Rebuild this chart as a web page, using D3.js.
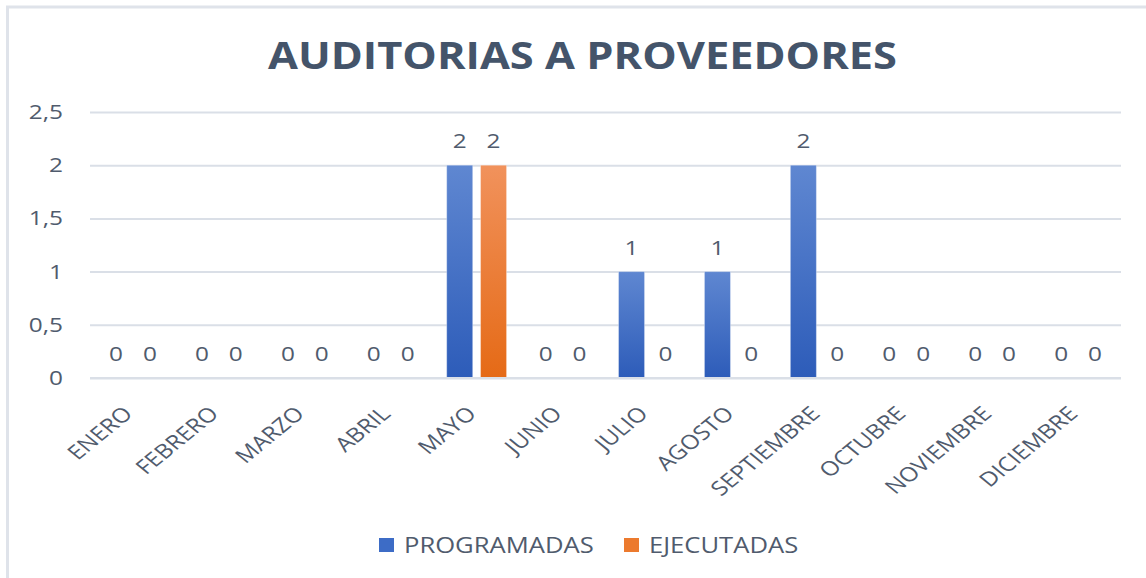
<!DOCTYPE html>
<html>
<head>
<meta charset="utf-8">
<script src="https://cdn.jsdelivr.net/npm/d3@7"></script>
<style>
  html, body { margin: 0; padding: 0; background: #ffffff; }
  svg { display: block; }
  text { font-family: "Open Sans", "Noto Sans", sans-serif; }
</style>
</head>
<body>
<svg id="chart" width="1146" height="578"></svg>
<script>
const categories = ["ENERO","FEBRERO","MARZO","ABRIL","MAYO","JUNIO","JULIO","AGOSTO","SEPTIEMBRE","OCTUBRE","NOVIEMBRE","DICIEMBRE"];
const seriesNames = ["PROGRAMADAS","EJECUTADAS"];
const programadas = [0,0,0,0,2,0,1,1,2,0,0,0];
const ejecutadas  = [0,0,0,0,2,0,0,0,0,0,0,0];
const yTicks = [0,0.5,1,1.5,2,2.5];
const titleText = "AUDITORIAS A PROVEEDORES";

const svg = d3.select("#chart");
const W = 1146, H = 578;
const plot = {left: 90, right: 1121, top: 112, bottom: 378};
const textColor = "#505b6d";
const gridColor = "#dadfe7";
const SX = 1.22; // horizontal stretch of the reference text

// frame
svg.append("rect").attr("x", 7.5).attr("y", 7).attr("width", W + 10).attr("height", H + 10)
  .attr("fill", "none").attr("stroke", "#dfe3ea").attr("stroke-width", 3);

// gradients
const defs = svg.append("defs");
const grads = [
  {id: "gBlue", top: "#5f87d1", bottom: "#2d5cb9"},
  {id: "gOrange", top: "#f1925c", bottom: "#e56a16"}
];
grads.forEach(g => {
  const lg = defs.append("linearGradient").attr("id", g.id).attr("x1", 0).attr("y1", 0).attr("x2", 0).attr("y2", 1);
  lg.append("stop").attr("offset", "0%").attr("stop-color", g.top);
  lg.append("stop").attr("offset", "100%").attr("stop-color", g.bottom);
});
const fills = ["url(#gBlue)", "url(#gOrange)"];
const legendFills = ["#3d6cc6", "#ec7a2e"];

const y = d3.scaleLinear().domain([0, 2.5]).range([plot.bottom, plot.top]);
const x0 = d3.scaleBand().domain(categories).range([plot.left, plot.right]).padding(0);
const w = x0.bandwidth() / 3.3;
const x1 = d3.scaleBand().domain(seriesNames).range([w / 2, x0.bandwidth() - w / 2])
  .paddingInner(0.3 / 1.3).paddingOuter(0);

// gridlines
const yAxis = d3.axisLeft(y).tickValues(yTicks)
  .tickSize(-(plot.right - plot.left))
  .tickFormat(d => String(d).replace(".", ","));
const gy = svg.append("g").attr("transform", `translate(${plot.left},0)`).call(yAxis);
gy.select(".domain").remove();
gy.selectAll(".tick line").attr("stroke", gridColor).attr("stroke-width", 2);
gy.selectAll(".tick text").attr("x", 0).attr("fill", textColor)
  .style("font-size", "20px").style("font-family", "'Open Sans', sans-serif")
  .attr("transform", `translate(-27,0) scale(${SX},1)`);

// bars
const data = categories.map((c, i) => ({cat: c, vals: [programadas[i], ejecutadas[i]]}));
const groups = svg.append("g").selectAll("g").data(data).join("g")
  .attr("transform", d => `translate(${x0(d.cat)},0)`);
groups.selectAll("rect").data(d => d.vals.map((v, k) => ({k, v}))).join("rect")
  .filter(d => d.v > 0)
  .attr("x", d => x1(seriesNames[d.k]))
  .attr("width", x1.bandwidth())
  .attr("y", d => y(d.v))
  .attr("height", d => y(0) - y(d.v))
  .attr("fill", d => fills[d.k])
  .attr("stroke", "rgba(255,255,255,0.35)").attr("stroke-width", 1);

groups.selectAll("text").data(d => d.vals.map((v, k) => ({k, v}))).join("text")
  .attr("transform", d => `translate(${x1(seriesNames[d.k]) + x1.bandwidth() / 2},${y(d.v) - 24}) scale(${SX},1)`)
  .attr("dy", "0.35em")
  .attr("text-anchor", "middle")
  .attr("fill", textColor)
  .style("font-size", "20px")
  .text(d => d.v);

// x axis baseline
svg.append("line").attr("x1", plot.left).attr("x2", plot.right)
  .attr("y1", y(0)).attr("y2", y(0)).attr("stroke", gridColor).attr("stroke-width", 2);

// category labels
const xAxis = d3.axisBottom(x0).tickSize(0).tickPadding(0);
const gx = svg.append("g").attr("transform", `translate(0,${plot.bottom})`).call(xAxis);
gx.select(".domain").remove();
gx.selectAll(".tick text")
  .attr("fill", textColor)
  .style("font-size", "20px")
  .attr("text-anchor", "end")
  .attr("dy", null)
  .attr("y", 0)
  .attr("transform", `translate(1,37) scale(${SX},1) rotate(-45)`);

// title
svg.append("text").attr("x", 268).attr("y", 69).attr("text-anchor", "start")
  .attr("textLength", 629).attr("lengthAdjust", "spacingAndGlyphs")
  .attr("fill", "#44546a").style("font-size", "38px").style("font-weight", "bold")
  .text(titleText);

// legend
const legendX = [379, 624];
const lg = svg.append("g").selectAll("g").data(seriesNames).join("g")
  .attr("transform", (d, i) => `translate(${legendX[i]},538)`);
lg.append("rect").attr("width", 15).attr("height", 14).attr("fill", (d, i) => legendFills[i]);
lg.append("text").attr("transform", `translate(25,15) scale(${SX},1)`).attr("fill", textColor)
  .style("font-size", "21px").text(d => d);
</script>
</body>
</html>
